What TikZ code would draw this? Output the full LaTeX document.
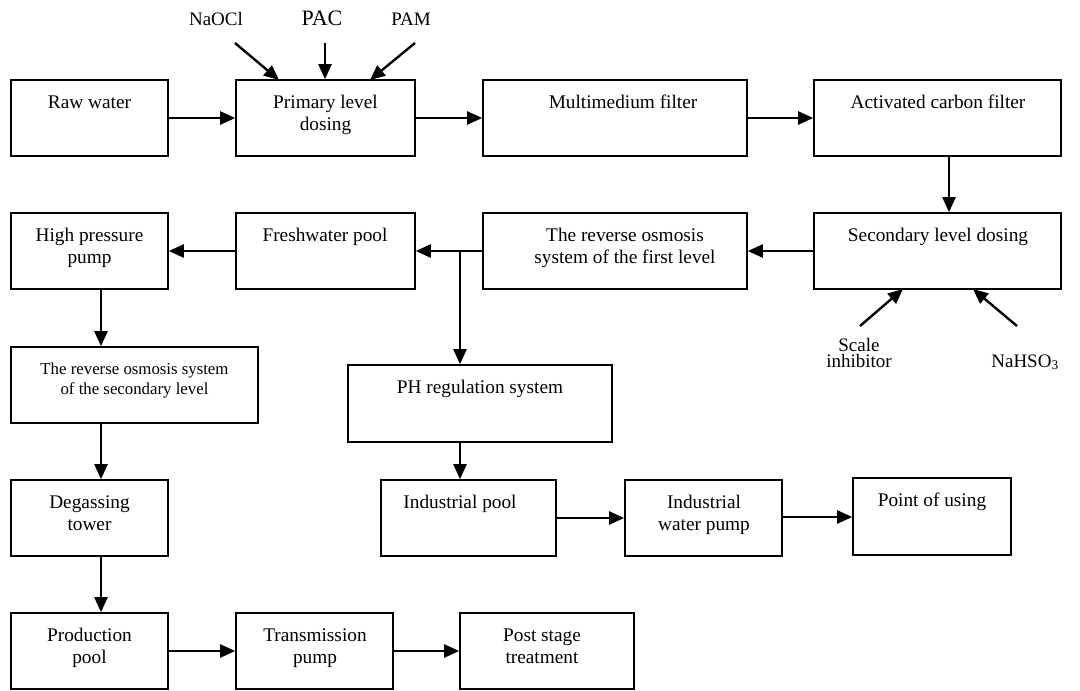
\documentclass[tikz,border=0pt]{standalone}
\usepackage{fontspec}
\setmainfont{Liberation Serif}
\usetikzlibrary{arrows.meta}
\newcommand\bx[7]{%
  \node[box, minimum width=#4pt, minimum height=#5pt] (#1) at (#2,#3) {};
  \node[lbl] (#1t) at (#6,#3-#5/2+12.6) {\strut #7};}
\begin{document}
\begin{tikzpicture}[x=1pt,y=-1pt,
  box/.style={draw, line width=1.6pt, inner sep=0pt},
  lbl/.style={inner sep=0pt, anchor=north, align=center, font=\fontsize{19.3}{22}\selectfont},
  arr/.style={line width=2.4pt, -{Triangle[length=15pt,width=13pt]}},
  chem/.style={inner sep=0pt, anchor=base, font=\fontsize{19}{22}\selectfont}]
\useasboundingbox (0,0) rectangle (1080,691);

% row 1
\bx{raw}{89.5}{118}{157}{76}{89.5}{Raw water}
\bx{prim}{325.5}{118}{179}{76}{325.5}{Primary level\\dosing}
\bx{multi}{615}{118}{264}{76}{623}{Multimedium filter}
\bx{act}{937.5}{118}{247}{76}{938}{Activated carbon filter}
% row 2
\bx{hpp}{89.5}{251}{157}{76}{89.5}{High pressure\\pump}
\bx{fresh}{325.5}{251}{179}{76}{325}{Freshwater pool}
\bx{roa}{615}{251}{264}{76}{625}{The reverse osmosis\\system of the first level}
\bx{sec}{937.5}{251}{247}{76}{938}{Secondary level dosing}
% row 3
\node[box, minimum width=247pt, minimum height=76pt] (rob) at (134.5,385) {};
\node[lbl, font=\fontsize{16.8}{20.5}\selectfont] (robt) at (134.5,347+12.6) {\strut The reverse osmosis system\\of the secondary level};
\bx{ph}{480}{403.5}{264}{77}{480}{PH regulation system}
% row 4
\bx{deg}{89.5}{518}{157}{76}{89.5}{Degassing\\tower}
\bx{ipool}{468.5}{518}{175}{76}{460}{Industrial pool}
\bx{ipump}{703.5}{518}{157}{76}{704}{Industrial\\water pump}
\bx{point}{932}{516.5}{158}{77}{932}{Point of using}
% row 5
\bx{prod}{89.5}{651}{157}{76}{89.5}{Production\\pool}
\bx{trans}{314.5}{651}{157}{76}{315}{Transmission\\pump}
\bx{post}{547}{651}{174}{76}{542}{Post stage\\treatment}

% chemicals
\node[chem] (naocl) at (216,25) {NaOCl};
\node[chem, font=\fontsize{22}{24}\selectfont] (pac) at (322,25) {PAC};
\node[chem] (pam) at (411,25) {PAM};
\node[inner sep=0pt, anchor=south, align=center, font=\fontsize{19}{16.5}\selectfont] (scale) at (859,368) {Scale\\inhibitor};
\node[chem] (nahso) at (1025,367) {NaHSO\textsubscript{3}};

\coordinate (c1) at (235,43);
\coordinate (c2) at (325,43);
\coordinate (c3) at (415,43);
\coordinate (e1) at (279,80);
\coordinate (e3) at (370,80);
\coordinate (c4) at (860,326);
\coordinate (c5) at (1017,326);
\coordinate (e4) at (903,289);
\coordinate (e5) at (973,289);
\coordinate (xa) at (949,0);
\coordinate (j) at (460,251);
\coordinate (xb) at (101,0);
\coordinate (yp) at (0,517);

% connectors
\draw[arr] (raw.east) -- (prim.west);
\draw[arr] (prim.east) -- (multi.west);
\draw[arr] (multi.east) -- (act.west);
\draw[arr] (act.south -| xa) -- (sec.north -| xa);
\draw[arr] (sec.west) -- (roa.east);
\draw[arr] (roa.west) -- (fresh.east);
\draw[arr] (j) -- (j |- ph.north);
\draw[arr] (fresh.west) -- (hpp.east);
\draw[arr] (hpp.south -| xb) -- (rob.north -| xb);
\draw[arr] (rob.south -| xb) -- (deg.north -| xb);
\draw[arr] (deg.south -| xb) -- (prod.north -| xb);
\draw[arr] (prod.east) -- (trans.west);
\draw[arr] (trans.east) -- (post.west);
\draw[arr] (ph.south -| j) -- (ipool.north -| j);
\draw[arr] (ipool.east) -- (ipump.west);
\draw[arr] (ipump.east |- yp) -- (point.west |- yp);

\draw[arr] (c1) -- (e1);
\draw[arr] (c2) -- (prim.north -| c2);
\draw[arr] (c3) -- (e3);
\draw[arr] (c4) -- (e4);
\draw[arr] (c5) -- (e5);
\end{tikzpicture}
\end{document}
